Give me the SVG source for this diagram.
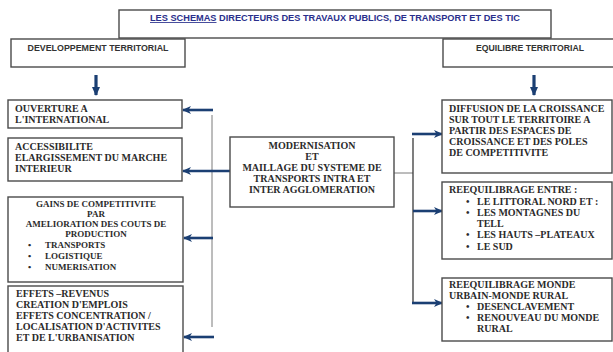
<svg xmlns="http://www.w3.org/2000/svg" width="613" height="352" viewBox="0 0 613 352">
<style>
.box{fill:#fff;stroke:#4a4a4a;stroke-width:1.4}
.t{font-family:"Liberation Serif","Times New Roman",serif;font-weight:bold;font-size:10px;fill:#2b2b2b}
.ts{font-family:"Liberation Serif","Times New Roman",serif;font-weight:bold;font-size:9px;fill:#2b2b2b}
.h{font-family:"Liberation Sans",Arial,sans-serif;font-weight:bold;font-size:8.5px;fill:#333}
.ttl{font-family:"Liberation Sans",Arial,sans-serif;font-weight:bold;font-size:8.5px;fill:#2a2f8c}
.conn{fill:none;stroke:#7a7a7a;stroke-width:1}
.connd{fill:none;stroke:#3a3a3a;stroke-width:1.3}
.arr{fill:none;stroke:#1b3f73;stroke-width:2.6}
.down{fill:none;stroke:#1b3f73;stroke-width:3.2}
</style>
<defs>
<marker id="ah" markerUnits="userSpaceOnUse" markerWidth="9" markerHeight="8" refX="8" refY="4" orient="auto">
<path d="M0,0 L9,4 L0,8 L2.5,4 Z" fill="#1b3f73"/>
</marker>
<marker id="ahd" markerUnits="userSpaceOnUse" markerWidth="9" markerHeight="8" refX="8" refY="4" orient="auto">
<path d="M0,0 L9,4 L0,8 Z" fill="#1b3f73"/>
</marker>
</defs>

<g id="title">
<rect class="box" x="119" y="10" width="432" height="28"/>
<text class="ttl" x="150" y="21" textLength="370" lengthAdjust="spacingAndGlyphs"><tspan text-decoration="underline">LES SCHEMAS</tspan>  DIRECTEURS  DES TRAVAUX PUBLICS, DE  TRANSPORT  ET  DES  TIC</text>
</g>

<g id="dev">
<rect class="box" x="11" y="39" width="174" height="28"/>
<text class="h" x="98" y="51" text-anchor="middle" textLength="141" lengthAdjust="spacingAndGlyphs">DEVELOPPEMENT TERRITORIAL</text>
</g>

<g id="equi">
<rect class="box" x="443" y="39" width="175" height="28"/>
<text class="h" x="530" y="51" text-anchor="middle" textLength="108" lengthAdjust="spacingAndGlyphs">EQUILIBRE TERRITORIAL</text>
</g>

<g id="connectors">
<line class="down" x1="96" y1="75" x2="96" y2="95" marker-end="url(#ahd)"/>
<line class="down" x1="534" y1="75" x2="534" y2="95" marker-end="url(#ahd)"/>
<line class="conn" x1="212" y1="115" x2="212" y2="327"/>
<line class="arr" x1="213" y1="110" x2="183" y2="110" marker-end="url(#ah)"/>
<line class="arr" x1="230" y1="171" x2="183" y2="171" marker-end="url(#ah)"/>
<line class="arr" x1="213" y1="238" x2="184" y2="238" marker-end="url(#ah)"/>
<line class="arr" x1="214" y1="337" x2="184" y2="337" marker-end="url(#ah)"/>
<line class="conn" x1="394" y1="173" x2="413" y2="173"/>
<path class="connd" d="M413,138 V303"/>
<line class="arr" x1="412" y1="134" x2="442" y2="134" marker-end="url(#ah)"/>
<line class="arr" x1="413" y1="211" x2="442" y2="211" marker-end="url(#ah)"/>
<line class="arr" x1="412" y1="303" x2="442" y2="303" marker-end="url(#ah)"/>
</g>

<g id="ouverture">
<rect class="box" x="8" y="100" width="174" height="28"/>
<text class="t" x="15" y="112">OUVERTURE A</text>
<text class="t" x="15" y="123">L'INTERNATIONAL</text>
</g>

<g id="accessibilite">
<rect class="box" x="8" y="138" width="174" height="43"/>
<text class="t" x="15" y="150">ACCESSIBILITE</text>
<text class="t" x="15" y="161">ELARGISSEMENT DU MARCHE</text>
<text class="t" x="15" y="172">INTERIEUR</text>
</g>

<g id="gains">
<rect class="box" x="8" y="197" width="175" height="85"/>
<text class="ts" x="96" y="207" text-anchor="middle">GAINS DE COMPETITIVITE</text>
<text class="ts" x="96" y="217" text-anchor="middle">PAR</text>
<text class="ts" x="96" y="227" text-anchor="middle">AMELIORATION DES COUTS DE</text>
<text class="ts" x="96" y="237" text-anchor="middle">PRODUCTION</text>
<text class="ts" x="28" y="248">•</text><text class="ts" x="45" y="248">TRANSPORTS</text>
<text class="ts" x="28" y="259">•</text><text class="ts" x="45" y="259">LOGISTIQUE</text>
<text class="ts" x="28" y="270">•</text><text class="ts" x="45" y="270">NUMERISATION</text>
</g>

<g id="effets">
<rect class="box" x="8" y="286" width="175" height="72"/>
<text class="t" x="16" y="297">EFFETS –REVENUS</text>
<text class="t" x="16" y="308">CREATION D'EMPLOIS</text>
<text class="t" x="16" y="319">EFFETS CONCENTRATION /</text>
<text class="t" x="16" y="330">LOCALISATION D'ACTIVITES</text>
<text class="t" x="16" y="341">ET DE L'URBANISATION</text>
</g>

<g id="modernisation">
<rect class="box" x="230" y="137" width="164" height="70"/>
<text class="t" x="312" y="149" text-anchor="middle">MODERNISATION</text>
<text class="t" x="312" y="160" text-anchor="middle">ET</text>
<text class="t" x="312" y="171" text-anchor="middle">MAILLAGE DU SYSTEME DE</text>
<text class="t" x="312" y="182" text-anchor="middle">TRANSPORTS INTRA ET</text>
<text class="t" x="312" y="193" text-anchor="middle">INTER AGGLOMERATION</text>
</g>

<g id="diffusion">
<rect class="box" x="442" y="100" width="170" height="73"/>
<text class="t" x="449" y="112">DIFFUSION DE LA CROISSANCE</text>
<text class="t" x="449" y="123">SUR TOUT LE TERRITOIRE A</text>
<text class="t" x="449" y="134">PARTIR DES ESPACES DE</text>
<text class="t" x="449" y="145">CROISSANCE ET DES POLES</text>
<text class="t" x="449" y="156">DE COMPETITIVITE</text>
</g>

<g id="reequilibrage">
<rect class="box" x="442" y="182" width="170" height="77"/>
<text class="t" x="449" y="193">REEQUILIBRAGE ENTRE :</text>
<text class="t" x="466" y="205">•</text><text class="t" x="477" y="205">LE LITTORAL NORD ET :</text>
<text class="t" x="466" y="216">•</text><text class="t" x="477" y="216">LES MONTAGNES DU</text>
<text class="t" x="477" y="227">TELL</text>
<text class="t" x="466" y="238">•</text><text class="t" x="477" y="238">LES HAUTS –PLATEAUX</text>
<text class="t" x="466" y="250">•</text><text class="t" x="477" y="250">LE SUD</text>
</g>

<g id="urbain-rural">
<rect class="box" x="442" y="278" width="170" height="63"/>
<text class="t" x="449" y="288">REEQUILIBRAGE MONDE</text>
<text class="t" x="449" y="299">URBAIN-MONDE RURAL</text>
<text class="t" x="466" y="310">•</text><text class="t" x="477" y="310">DESENCLAVEMENT</text>
<text class="t" x="466" y="321">•</text><text class="t" x="477" y="321">RENOUVEAU DU MONDE</text>
<text class="t" x="477" y="332">RURAL</text>
</g>
</svg>
